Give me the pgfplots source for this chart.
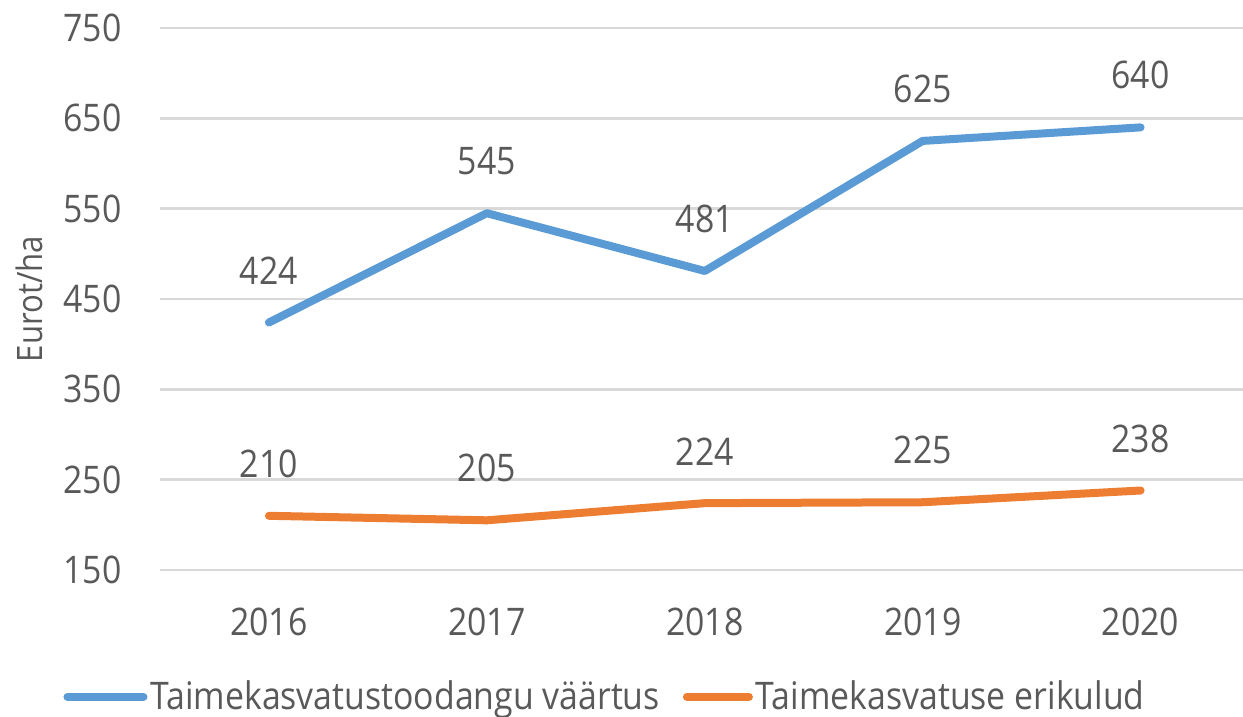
\documentclass[border=0pt]{standalone}
\usepackage{fontspec}
\setmainfont[FakeStretch=0.89]{Open Sans}
\usepackage{pgfplots}
\pgfplotsset{compat=1.18}
\definecolor{blueline}{HTML}{5B9BD5}
\definecolor{orangeline}{HTML}{ED7D31}
\definecolor{txt}{HTML}{595959}
\definecolor{gridc}{HTML}{D9D9D9}
\begin{document}
\begin{tikzpicture}
\begin{axis}[
  name=ax,
  scale only axis,
  width=541.5pt, height=271pt,
  xmin=2015.5, xmax=2020.47,
  ymin=150, ymax=750,
  xtick={2016,2017,2018,2019,2020},
  ytick={150,250,...,750},
  xticklabel style={/pgf/number format/1000 sep={}},
  /pgf/number format/assume math mode=true,
  axis line style={draw=none},
  major tick length=0pt,
  ymajorgrids=true,
  grid style={gridc, line width=1.2pt},
  tick label style={font=\fontsize{19}{23}\selectfont, text=txt},
  yticklabel style={inner sep=0pt, anchor=east, xshift=-19pt},
  xticklabel style={inner sep=0pt, anchor=north, yshift=-19pt},
  ylabel={Eurot/ha},
  ylabel style={font=\fontsize{17.5}{21}\selectfont, text=txt, at={(axis description cs:-0.121,0.5)}, anchor=center},
  clip=false,
  nodes near coords,
  every node near coord/.append style={font=\fontsize{19}{23}\selectfont, text=txt, anchor=south, inner sep=0pt, yshift=17pt},
  legend columns=2,
  legend style={draw=none, at={(axis description cs:-0.0895,-0.234)}, anchor=west, inner sep=0pt,
    font=\fontsize{19}{23}\selectfont, text=txt,
    nodes={inner xsep=1.5pt},
    /tikz/every even column/.append style={column sep=10pt}},
]
\addplot[blueline, line width=4pt, line cap=round, line join=round,
  legend image code/.code={\draw[blueline, line width=4pt, line cap=round] (0pt,0pt) -- (38pt,0pt);}]
  coordinates {(2016,424) (2017,545) (2018,481) (2019,625) (2020,640)};
\addlegendentry{Taimekasvatustoodangu väärtus}
\addplot[orangeline, line width=4pt, line cap=round, line join=round,
  legend image code/.code={\draw[orangeline, line width=4pt, line cap=round] (0pt,0pt) -- (31pt,0pt);}]
  coordinates {(2016,210) (2017,205) (2018,224) (2019,225) (2020,238)};
\addlegendentry{Taimekasvatuse erikulud}
\coordinate (bl) at (rel axis cs:0,0);
\coordinate (tr) at (rel axis cs:1,1);
\end{axis}
\pgfresetboundingbox
\path[use as bounding box] ([xshift=-80pt,yshift=-73.5pt]bl) rectangle ([yshift=14pt]tr);
\end{tikzpicture}
\end{document}
